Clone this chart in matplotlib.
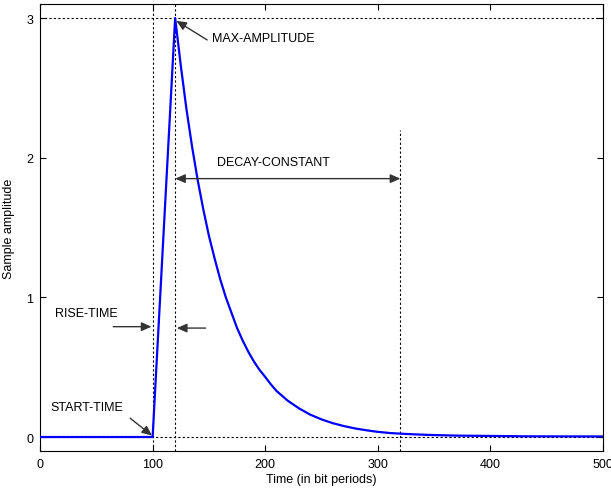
import matplotlib
matplotlib.use("Agg")
import matplotlib.pyplot as plt

plt.rcParams['font.family'] = ['Liberation Sans', 'DejaVu Sans']

# pulse
t = [0, 100, 120, 125, 130, 135, 140, 145, 150, 155, 160, 165, 170, 175,
     180, 185, 190, 195, 200, 205, 210, 215, 220, 230, 240, 250, 260, 270,
     280, 290, 300, 310, 320, 330, 345, 370, 433, 500]
amp = [0.0, 0.0, 3.0, 2.66, 2.35, 2.08, 1.84, 1.63, 1.44, 1.28, 1.13, 1.0,
       0.89, 0.78, 0.69, 0.61, 0.54, 0.48, 0.43, 0.377, 0.33, 0.295,
       0.26, 0.205, 0.16, 0.126, 0.099, 0.078, 0.061, 0.048, 0.037, 0.029,
       0.024, 0.02, 0.015, 0.01, 0.005, 0.004]

start_time = 100
peak_time = 120
decay_end = 320
max_amp = 3.0

fig = plt.figure(figsize=(6.11, 4.89), dpi=100)
ax = fig.add_axes([0.0655, 0.0757, 0.9215, 0.914])

dash = dict(color='black', lw=0.8, ls=(0, (2, 2)), zorder=1)
ax.axhline(max_amp, **dash)
ax.axhline(0, **dash)
ax.axvline(start_time, **dash)
ax.axvline(peak_time, **dash)
ax.plot([decay_end, decay_end], [-0.1, 2.2], **dash)

ax.plot(t, amp, color='#0000ff', lw=1.6, zorder=3)

arr = dict(arrowstyle='-|>,head_length=0.5,head_width=0.22', color='#333333',
           lw=1.0, mutation_scale=12, shrinkA=0, shrinkB=0)
fs = 9
ax.annotate('MAX-AMPLITUDE', xy=(121, 2.98), xytext=(153, 2.86),
            fontsize=fs, va='center', ha='left',
            arrowprops=dict(arr, relpos=(-0.05, 0.3)))
ax.annotate('', xy=(peak_time, 1.85), xytext=(decay_end, 1.85),
            arrowprops=dict(arr, arrowstyle='<|-|>,head_length=0.5,head_width=0.22'))
ax.text(207, 1.97, 'DECAY-CONSTANT', fontsize=fs, ha='center', va='center')
ax.text(13, 0.89, 'RISE-TIME', fontsize=fs, ha='left', va='center')
ax.annotate('', xy=(99, 0.79), xytext=(65, 0.79), arrowprops=arr)
ax.annotate('', xy=(121.5, 0.78), xytext=(147, 0.78), arrowprops=arr)
ax.text(9, 0.215, 'START-TIME', fontsize=fs, ha='left', va='center')
ax.annotate('', xy=(99.5, 0.01), xytext=(80, 0.135), arrowprops=arr)

ax.set_xlim(0, 500)
ax.set_ylim(-0.1, 3.1)
ax.set_xticks([0, 100, 200, 300, 400, 500])
ax.set_yticks([0, 1, 2, 3])
ax.tick_params(direction='in', length=4, width=0.8, top=True, right=True,
               labelsize=fs, pad=5)
for s in ax.spines.values():
    s.set_linewidth(0.8)
ax.set_xlabel('Time (in bit periods)', fontsize=fs, labelpad=2)
ax.set_ylabel('Sample amplitude', fontsize=fs, labelpad=8)

fig.savefig('out.png', dpi=100)
plt.close(fig)
